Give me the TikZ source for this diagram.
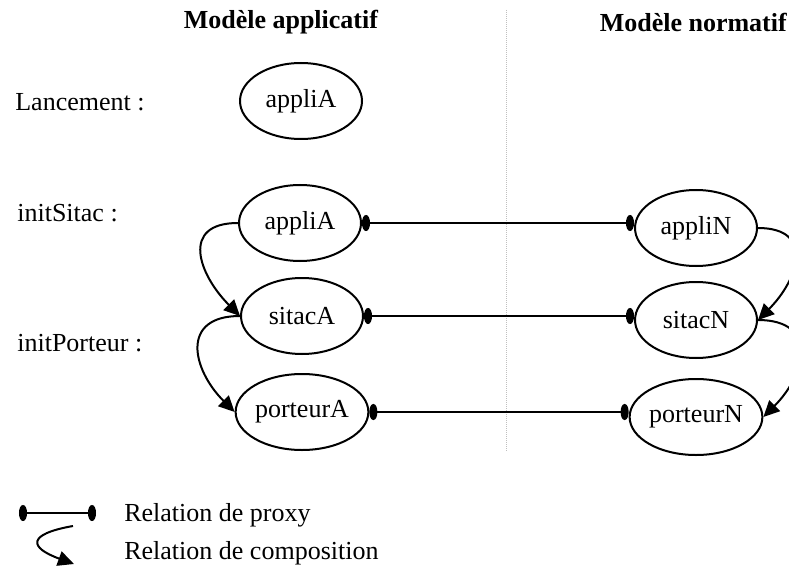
\documentclass[tikz,border=0pt]{standalone}
\usepackage{fontspec}
\setmainfont{Liberation Serif}
\usetikzlibrary{positioning, calc, arrows.meta, shapes.geometric}

\begin{document}
\begin{tikzpicture}[x=1pt, y=-1pt, line width=2pt,
    every node/.style={font=\fontsize{26}{31}\selectfont},
    objet/.style={ellipse, draw, minimum width=122pt, minimum height=76pt, inner sep=0pt},
    proxy/.style={{Ellipse[length=8pt,width=16pt]}-{Ellipse[length=8pt,width=16pt]}},
    compo/.style={-{Triangle[length=16pt,width=15pt]}},
    etiq/.style={anchor=west}]
    \useasboundingbox (0,0) rectangle (789,572);

    % Titres et separation
    \node (titreA) at (281,22) {\textbf{Modèle applicatif}};
    \node[anchor=east, inner sep=1pt] (titreN) at (789,22) {\textbf{Modèle normatif}};
    \coordinate (sepHaut) at (506,10);
    \coordinate (sepBas) at (506,451);
    \draw[gray!50, line width=0.8pt, dash pattern=on 1pt off 1pt] (sepHaut) -- (sepBas);

    % Etapes
    \node[etiq] (lanc) at (11,102) {Lancement :};
    \node[etiq] (initS) at (13,213) {initSitac :};
    \node[etiq] (initP) at (13,343) {initPorteur :};

    % Modele applicatif
    \node[objet] (lancA) at (301,101) {appliA};
    \node[objet] (appliA) at (300,223) {appliA};
    \node[objet] (sitacA) at (302,316) {sitacA};
    \node[objet] (porteurA) at (302,412) {porteurA};

    % Modele normatif
    \node[objet] (appliN) at (696,228) {appliN};
    \node[objet] (sitacN) at (696,320) {sitacN};
    \node[objet] (porteurN) at (696,417) {porteurN};

    % Relations de proxy
    \draw[proxy] (appliA.east) -- (appliA.east -| appliN.west);
    \draw[proxy] (sitacA.east) -- (sitacA.east -| sitacN.west);
    \draw[proxy] (porteurA.east) -- (porteurA.east -| porteurN.west);

    % Relations de composition
    \draw[compo] (appliA.west) to[out=180, in=135, looseness=1.6] (sitacA.west);
    \draw[compo] (sitacA.west) to[out=180, in=135, looseness=1.6] (porteurA.west);
    \draw[compo] (appliN.east) to[out=0, in=45, looseness=1.6] (sitacN.east);
    \draw[compo] (sitacN.east) to[out=0, in=45, looseness=1.6] (porteurN.east);

    % Legende
    \coordinate (legP1) at (19,513);
    \coordinate (legP2) at (96,513);
    \draw[proxy] (legP1) -- (legP2);
    \node[etiq] (legProxy) at (120,515) {Relation de proxy};
    \coordinate (legC1) at (73,526);
    \coordinate (legC2) at (74,564);
    \draw[compo] (legC1) to[out=190, in=160, looseness=3.2] (legC2);
    \node[etiq] (legCompo) at (120,553) {Relation de composition};
\end{tikzpicture}
\end{document}
